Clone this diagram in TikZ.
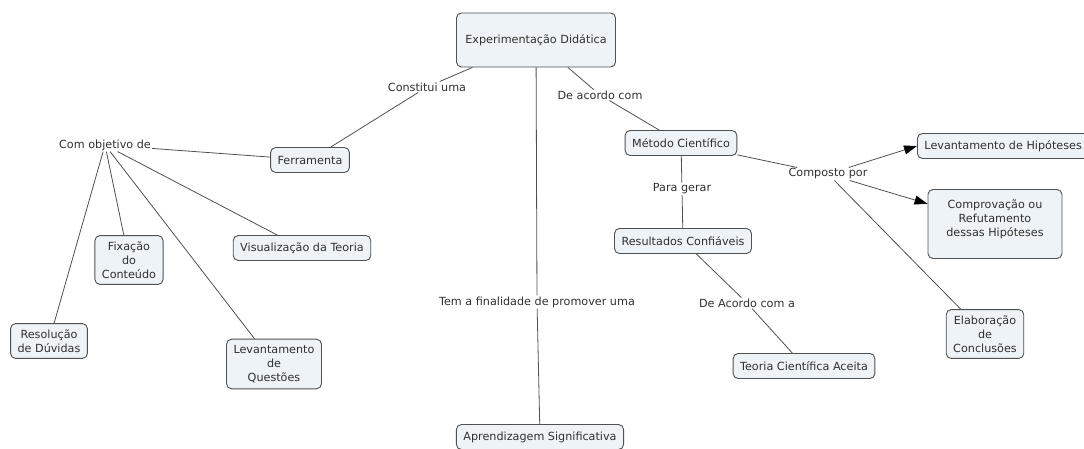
\documentclass[tikz,border=0pt]{standalone}
\usepackage{fontspec}
\setmainfont{DejaVu Sans}
\usetikzlibrary{arrows.meta}
\definecolor{boxfill}{HTML}{EDF3F6}
\definecolor{boxline}{HTML}{505050}
\definecolor{txt}{HTML}{303030}

\begin{document}
\begin{tikzpicture}[x=1pt, y=-1pt,
    concept/.style={draw=boxline, fill=boxfill, rounded corners=5pt, line width=0.9pt,
        text=txt, align=center, inner xsep=7pt, inner ysep=6pt, minimum height=25pt,
        font=\fontsize{11.2}{14}\selectfont},
    link/.style={text=txt, inner sep=1pt, font=\fontsize{11.2}{14}\selectfont},
    conn/.style={draw=boxline, line width=0.8pt},
    arrowed/.style={conn, -{Triangle[length=13pt, width=9pt, color=black]}}]
    % Page frame
    \useasboundingbox (0,0) rectangle (1084,449);

    % Main concept
    \node[concept, minimum width=159pt, minimum height=54pt] (exp) at (536,40) {Experimentação Didática};

    % Left branch
    \node[link] (constitui) at (427,87) {Constitui uma};
    \node[concept] (ferr) at (310,160) {Ferramenta};
    \node[link] (objetivo) at (105,145) {Com objetivo de};
    \node[concept] (fix) at (129,260) {Fixação\\do\\Conteúdo};
    \node[concept] (vis) at (302,248) {Visualização da Teoria};
    \node[concept] (resol) at (49,341) {Resolução\\de Dúvidas};
    \node[concept] (levq) at (274,364) {Levantamento\\de\\Questões};

    % Middle branch
    \node[link] (finalidade) at (537,302) {Tem a finalidade de promover uma};
    \node[concept] (aprend) at (540,437) {Aprendizagem Significativa};

    % Right branch
    \node[link] (deacordo) at (600,95) {De acordo com};
    \node[concept] (metodo) at (681,143) {Método Científico};
    \node[link] (gerar) at (682,189) {Para gerar};
    \node[concept] (result) at (683,241) {Resultados Confiáveis};
    \node[link] (acordoa) at (747,303) {De Acordo com a};
    \node[concept] (teoria) at (804,366) {Teoria Científica Aceita};
    \node[link] (composto) at (828,174) {Composto por};
    \node[concept, anchor=west] (levh) at (917,146) {Levantamento de Hipóteses};
    \node[concept, minimum width=134pt, minimum height=69pt, text depth=12pt] (comprov) at (995,224) {Comprovação ou\\Refutamento\\dessas Hipóteses};
    \node[concept] (elab) at (985,334) {Elaboração\\de\\Conclusões};

    % Connectors
    \draw[conn] (exp) -- (constitui);
    \draw[conn] (constitui) -- (ferr);
    \draw[conn] (ferr) -- (objetivo);
    \draw[conn] (objetivo) -- (fix);
    \draw[conn] (objetivo) -- (vis);
    \draw[conn] (objetivo) -- (resol);
    \draw[conn] (objetivo) -- (levq);

    \draw[conn] (exp) -- (finalidade);
    \draw[conn] (finalidade) -- (aprend);

    \draw[conn] (exp) -- (deacordo);
    \draw[conn] (deacordo) -- (metodo);
    \draw[conn] (metodo) -- (gerar);
    \draw[conn] (gerar) -- (result);
    \draw[conn] (result) -- (acordoa);
    \draw[conn] (acordoa) -- (teoria);
    \draw[conn] (metodo) -- (composto);
    \draw[arrowed] (composto) -- (levh.west);
    \draw[arrowed] (composto) -- (comprov);
    \draw[conn] (composto) -- (elab);
\end{tikzpicture}
\end{document}
